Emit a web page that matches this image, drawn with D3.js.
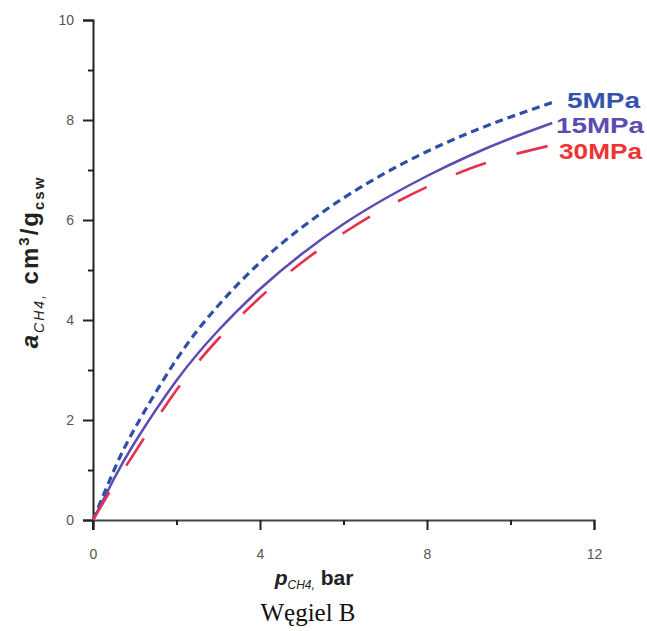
<!DOCTYPE html>
<html>
<head>
<meta charset="utf-8">
<script src="https://cdn.jsdelivr.net/npm/d3@7"></script>
<style>
  body { margin: 0; background: #fff; }
  .tick text { font-family: Arial, "Liberation Sans", sans-serif; font-size: 14px; fill: #555; }
</style>
</head>
<body>
<div id="chart"></div>
<script>
// pressure values (bar) and adsorption
var pressure = [0, 0.5, 1, 2, 3, 4, 5, 6, 7, 8, 9, 10, 11];
var mpa5  = [0, 0.99, 1.83, 3.21, 4.29, 5.15, 5.85, 6.44, 6.94, 7.37, 7.74, 8.06, 8.35];
var mpa15 = [0, 0.82, 1.55, 2.79, 3.79, 4.62, 5.32, 5.92, 6.43, 6.88, 7.28, 7.63, 7.94];
var mpa30 = [0, 0.70, 1.35, 2.60, 3.62, 4.45, 5.15, 5.74, 6.24, 6.66, 7.02, 7.29, 7.50];
var seriesNames = ["5MPa", "15MPa", "30MPa"];
var xTicks = [0, 2, 4, 6, 8, 10, 12];
var yTicks = [0, 1, 2, 3, 4, 5, 6, 7, 8, 9, 10];

var svgWidth = 647;
var svgHeight = 631;

var margin = { top: 20, right: 53, bottom: 111, left: 93 };
var width = svgWidth - margin.left - margin.right;
var height = svgHeight - margin.top - margin.bottom;

var svg = d3.select("#chart")
  .append("svg")
  .attr("width", svgWidth)
  .attr("height", svgHeight);

var chartGroup = svg.append("g")
  .attr("transform", `translate(${margin.left}, ${margin.top})`);

var xScale = d3.scaleLinear().domain([0, 12]).range([0, width]);
var yScale = d3.scaleLinear().domain([0, 10]).range([height, 0]);

// axes: labelled ticks are long, the rest short
var bottomAxis = d3.axisBottom(xScale)
  .tickValues(xTicks)
  .tickSizeOuter(0)
  .tickSize(10)
  .tickPadding(19)
  .tickFormat(d => d % 4 === 0 ? d : "");

var leftAxis = d3.axisLeft(yScale)
  .tickValues(yTicks)
  .tickSizeOuter(0)
  .tickSize(10)
  .tickPadding(9)
  .tickFormat(d => d % 2 === 0 ? d : "");

var xAxisG = chartGroup.append("g")
  .attr("transform", `translate(0, ${height})`)
  .call(bottomAxis);

var yAxisG = chartGroup.append("g")
  .call(leftAxis);

[xAxisG, yAxisG].forEach(function (g) {
  g.select(".domain").attr("stroke", "#222").attr("stroke-width", 2);
  g.selectAll(".tick line").attr("stroke", "#222").attr("stroke-width", 2);
});
xAxisG.select(".domain").attr("stroke", "#444");
xAxisG.selectAll(".tick line").attr("y2", d => d % 4 === 0 ? 10 : 5);
yAxisG.selectAll(".tick line").attr("x2", d => d % 2 === 0 ? -10 : -5);
// y axis runs a bit below zero
yAxisG.append("line")
  .attr("x1", 0).attr("x2", 0)
  .attr("y1", height).attr("y2", height + 10)
  .attr("stroke", "#222").attr("stroke-width", 2);

var line = d3.line()
  .x((d, i) => xScale(pressure[i]))
  .y(d => yScale(d))
  .curve(d3.curveNatural);

var styles = [
  { data: mpa5,  color: "#2f4ea8", dash: "8,5",   w: 3.2, label: "#3553ad", lx: 567, ly: 108, len: 73 },
  { data: mpa15, color: "#5a4cb2", dash: null,    w: 2.5, label: "#5a4cb2", lx: 556, ly: 133, len: 88 },
  { data: mpa30, color: "#e8304c", dash: "32,32", w: 2.6, label: "#ee3333", lx: 559, ly: 159, len: 83 }
];

styles.forEach(function (s, i) {
  chartGroup.append("path")
    .datum(s.data)
    .attr("d", line)
    .attr("fill", "none")
    .attr("stroke", s.color)
    .attr("stroke-width", s.w)
    .attr("stroke-dasharray", s.dash);

  svg.append("text")
    .attr("x", s.lx)
    .attr("y", s.ly)
    .attr("textLength", s.len)
    .attr("lengthAdjust", "spacingAndGlyphs")
    .style("font-family", "Arial, 'Liberation Sans', sans-serif")
    .style("font-size", "22px")
    .style("font-weight", "bold")
    .style("fill", s.label)
    .text(seriesNames[i]);
});

// y axis title
var yTitle = svg.append("text")
  .attr("transform", "translate(38, 262) rotate(-90)")
  .style("text-anchor", "middle")
  .style("font-family", "Arial, 'Liberation Sans', sans-serif")
  .style("font-weight", "bold")
  .style("font-size", "24px")
  .style("letter-spacing", "2px")
  .style("fill", "#222");
yTitle.append("tspan").style("font-style", "italic").text("a");
yTitle.append("tspan").attr("dy", 6).style("font-size", "14px").style("font-style", "italic").style("font-weight", "normal").text("CH4,");
yTitle.append("tspan").attr("dy", -6).text(" cm");
yTitle.append("tspan").attr("dy", -9).style("font-size", "15px").text("3");
yTitle.append("tspan").attr("dy", 9).text("/g");
yTitle.append("tspan").attr("dy", 6).style("font-size", "15px").text("csw");

// x axis title
var xTitle = svg.append("text")
  .attr("x", 314)
  .attr("y", 585)
  .style("text-anchor", "middle")
  .style("font-family", "Arial, 'Liberation Sans', sans-serif")
  .style("font-weight", "bold")
  .style("font-size", "21px")
  .style("fill", "#222");
xTitle.append("tspan").style("font-style", "italic").text("p");
xTitle.append("tspan").attr("dy", 4).style("font-size", "12px").style("font-style", "italic").style("font-weight", "normal").text("CH4,");
xTitle.append("tspan").attr("dy", -4).text(" bar");

// caption
svg.append("text")
  .attr("x", 308)
  .attr("y", 621)
  .style("text-anchor", "middle")
  .style("font-family", "'Liberation Serif', 'Times New Roman', serif")
  .style("font-size", "25px")
  .style("fill", "#111")
  .text("Węgiel B");
</script>
</body>
</html>
